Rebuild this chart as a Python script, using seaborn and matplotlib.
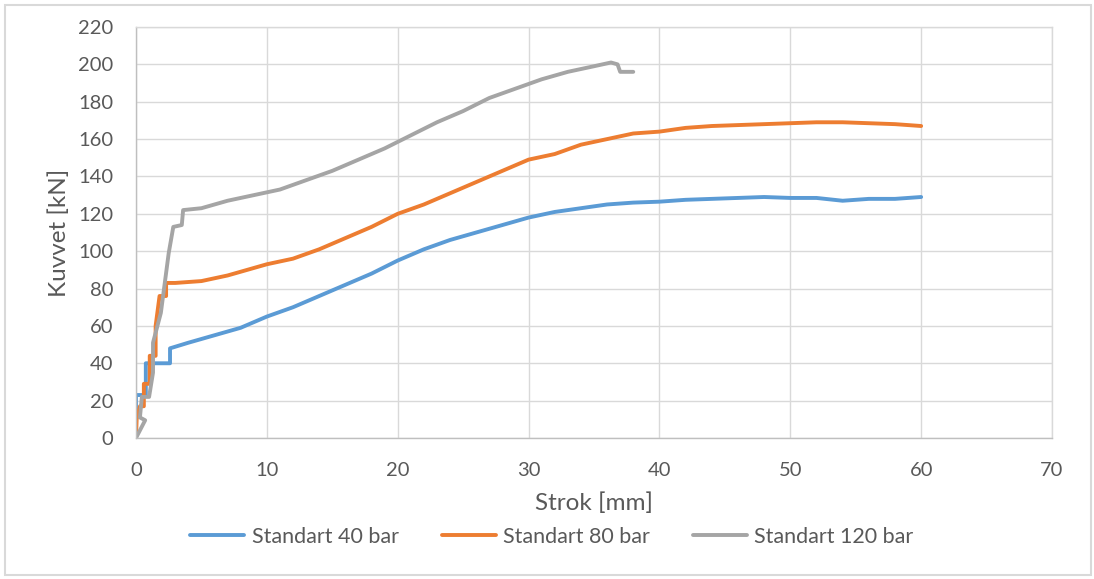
import matplotlib
matplotlib.use("Agg")
import matplotlib.pyplot as plt
import seaborn as sns
import pandas as pd
from matplotlib.patches import Rectangle

# ---- data ----
series_names = ["Standart 40 bar", "Standart 80 bar", "Standart 120 bar"]

blue_x = [0, 0, 0.75, 0.75, 2.6, 2.6, 4, 6, 8, 10, 12, 14, 16, 18, 20, 22, 24, 26, 28,
          30, 32, 34, 36, 38, 40, 42, 44, 46, 48, 50, 52, 54, 56, 58, 60]
blue_y = [0, 23, 23, 40, 40, 48, 51, 55, 59, 65, 70, 76, 82, 88, 95, 101, 106, 110, 114,
          118, 121, 123, 125, 126, 126.5, 127.5, 128, 128.5, 129, 128.5, 128.5, 127, 128, 128, 129]

orange_x = [0, 0.05, 0.3, 0.6, 0.6, 1.05, 1.05, 1.5, 1.5, 1.8, 2.3, 2.3, 3, 5, 7, 10, 12,
            14, 16, 18, 20, 22, 24, 26, 28, 30, 32, 34, 36, 38, 40, 42, 44, 46, 48, 50,
            52, 54, 56, 58, 60]
orange_y = [0, 10, 17, 17, 29, 29, 44, 44, 60, 76, 76, 83, 83, 84, 87, 93, 96,
            101, 107, 113, 120, 125, 131, 137, 143, 149, 152, 157, 160, 163, 164, 166, 167, 167.5, 168, 168.5,
            169, 169, 168.5, 168, 167]

gray_x = [0, 0.7, 0.3, 0.45, 1.0, 1.3, 1.3, 1.9, 2.2, 2.5, 2.85, 3.5, 3.6, 5, 7, 9, 11,
          13, 15, 17, 19, 21, 23, 25, 27, 29, 31, 33, 35, 36.3, 36.8, 37, 38]
gray_y = [0, 9.5, 11, 22, 22, 35, 51, 67, 83, 99, 113, 114, 122, 123, 127, 130, 133,
          138, 143, 149, 155, 162, 169, 175, 182, 187, 192, 196, 199, 201, 200, 196, 196]

x_ticks = [0, 10, 20, 30, 40, 50, 60, 70]
y_ticks = [0, 20, 40, 60, 80, 100, 120, 140, 160, 180, 200, 220]
x_label = "Strok [mm]"
y_label = "Kuvvet [kN]"

colors = ["#5B9BD5", "#ED7D31", "#A5A5A5"]

frames = []
for name, xs, ys in zip(series_names, [blue_x, orange_x, gray_x], [blue_y, orange_y, gray_y]):
    d = pd.DataFrame({"x": xs, "y": ys})
    d["series"] = name
    frames.append(d)
df = pd.concat(frames, ignore_index=True)

sns.set_theme(style="white")
plt.rcParams["font.family"] = ["Lato", "DejaVu Sans"]
text_color = "#595959"

fig = plt.figure(figsize=(10.94, 5.79), dpi=100)
ax = fig.add_axes([136 / 1094, 1 - 438 / 579, (1052 - 136) / 1094, (438 - 27) / 579])

sns.lineplot(data=df, x="x", y="y", hue="series", hue_order=series_names,
             palette=colors, sort=False, estimator=None, units="series",
             linewidth=2.8, ax=ax, legend=True)

ax.set_xlim(0, 70)
ax.set_ylim(0, 220)
ax.set_xticks(x_ticks)
ax.set_yticks(y_ticks)
ax.grid(True, color="#D9D9D9", linewidth=1)
ax.set_axisbelow(True)
for s in ax.spines.values():
    s.set_color("#D9D9D9")
    s.set_linewidth(1)
ax.spines["left"].set_color("#BFBFBF")
ax.spines["bottom"].set_color("#BFBFBF")
ax.tick_params(axis="both", length=0, labelsize=14.5, colors=text_color)
ax.tick_params(axis="y", pad=16.5)
ax.tick_params(axis="x", pad=17)
ax.set_xlabel(x_label, fontsize=17.5, color=text_color, labelpad=10)
ax.set_ylabel(y_label, fontsize=17.5, color=text_color, labelpad=6)

handles, labels = ax.get_legend_handles_labels()
ax.legend(handles, labels, loc="center", bbox_to_anchor=(552 / 1094, 1 - 537 / 579),
          bbox_transform=fig.transFigure, ncol=3, frameon=False, fontsize=15.5,
          handlelength=2.5, handletextpad=0.35, columnspacing=2.0, labelcolor=text_color)

fig.patches.append(Rectangle((5 / 1094, 4 / 579), 1086 / 1094, 570 / 579,
                             transform=fig.transFigure, fill=False,
                             edgecolor="#D9D9D9", linewidth=1.5))

fig.savefig("out.png", dpi=100)
